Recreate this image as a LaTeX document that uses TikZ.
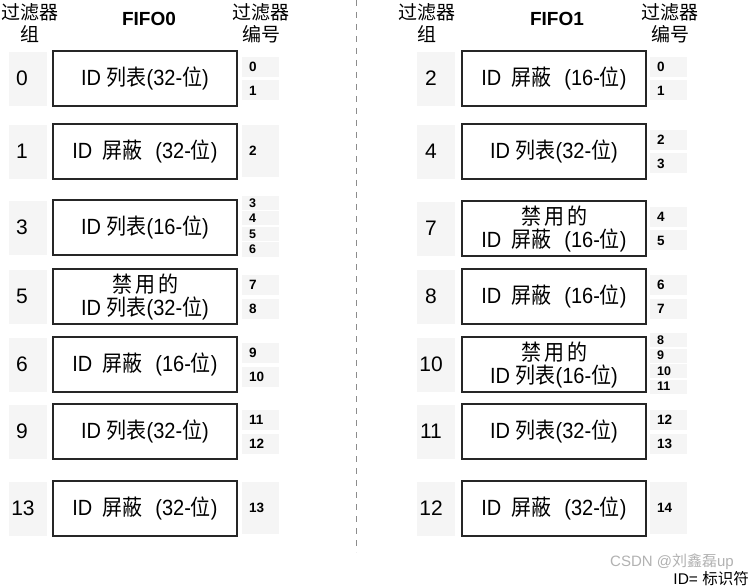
\documentclass[tikz,border=0pt]{standalone}
\usepackage{fontspec}
\usepackage{graphicx}
\setmainfont{Liberation Sans}
\newfontfamily\cjk{Noto Sans CJK SC}
\newcommand\zh[1]{{\cjk #1}}
\newcommand\myT[1]{\scalebox{1}[1.1]{#1}}
\newcommand\myLst[1]{\myT{ID \zh{列表}(#1-\zh{位})}}
\newcommand\myMsk[1]{\myT{ID\hspace{10pt}\zh{屏蔽}\hspace{13pt}(#1-\zh{位})}}
\newcommand\myDis{\myT{\zh{禁\hspace{3pt}用\hspace{3pt}的}}}
% filter-number cells: name, cell x centre, box top, numbers
\newcommand\oneF[4]{%
  \node[fcell, minimum height=52pt] (#1c) at (#2,#3+27) {};
  \node[fnum] (#1n) at (#2-11.5,#3+27) {#4};}
\newcommand\twoF[5]{%
  \node[fcell, minimum height=20pt] (#1ca) at (#2,#3+16) {};
  \node[fcell, minimum height=20pt] (#1cb) at (#2,#3+39.5) {};
  \node[fnum] (#1na) at (#2-11.5,#3+16) {#4};
  \node[fnum] (#1nb) at (#2-11.5,#3+39.5) {#5};}
\newcommand\fourF[7]{%
  \node[fcell, minimum height=14pt] (#1ca) at (#2,#3+3) {};
  \node[fcell, minimum height=14pt] (#1cb) at (#2,#3+18.5) {};
  \node[fcell, minimum height=14pt] (#1cc) at (#2,#3+34) {};
  \node[fcell, minimum height=14pt] (#1cd) at (#2,#3+49.5) {};
  \node[fnum4] (#1na) at (#2-11.5,#3+3) {#4};
  \node[fnum4] (#1nb) at (#2-11.5,#3+18.5) {#5};
  \node[fnum4] (#1nc) at (#2-11.5,#3+34) {#6};
  \node[fnum4] (#1nd) at (#2-11.5,#3+49.5) {#7};}
% group cell: name, cell x centre, label x, box top, number
\newcommand\grp[5]{%
  \node[gcell] (#1c) at (#2,#4+28) {};
  \node[gnum] (#1n) at (#3,#4+27) {#5};}
\begin{document}
\begin{tikzpicture}[x=1pt,y=-1pt,
  mainbox/.style={draw=black!85, line width=1.3pt, fill=white, minimum width=184pt,
    minimum height=55pt, inner sep=0pt, align=center, font=\fontsize{20}{23}\selectfont},
  fcell/.style={fill=black!4, inner sep=0pt, minimum width=37pt},
  gcell/.style={fill=black!4, inner sep=0pt, minimum width=38pt, minimum height=54pt},
  gnum/.style={inner sep=0pt, font=\fontsize{21}{24}\selectfont},
  fnum/.style={inner sep=0pt, anchor=west, font=\bfseries\fontsize{13.5}{15}\selectfont},
  fnum4/.style={inner sep=0pt, anchor=west, font=\bfseries\fontsize{12.5}{14}\selectfont},
  hdr/.style={inner sep=0pt, align=center, font=\cjk\fontsize{19}{22}\selectfont},
  fifo/.style={inner sep=0pt, font=\bfseries\fontsize{19}{22}\selectfont},
  divider/.style={draw=black!45, line width=1pt, dash pattern=on 6pt off 6pt}]
\useasboundingbox (0,0) rectangle (755,588);
\fill[white] (0,0) rectangle (755,588);

% divider
\coordinate (dtop) at (356,0);
\coordinate (dbot) at (356,552);
\draw[divider] (dtop) -- (dbot);

% headers
\node[hdr] (hL1) at (30,23) {过滤器\\组};
\node[fifo] (hL2) at (149,19) {FIFO0};
\node[hdr] (hL3) at (261,23) {过滤器\\编号};
\node[hdr] (hR1) at (427,23) {过滤器\\组};
\node[fifo] (hR2) at (557,19) {FIFO1};
\node[hdr] (hR3) at (670,23) {过滤器\\编号};

% ---------- FIFO0 ----------
\grp{gL0}{28}{22}{51}{0}
\node[mainbox] (bL0) at (145,78.5) {\myLst{32}};
\twoF{fL0}{260.5}{51}{0}{1}

\grp{gL1}{28}{22}{124}{1}
\node[mainbox] (bL1) at (145,151.5) {\myMsk{32}};
\oneF{fL1}{260.5}{124}{2}

\grp{gL3}{28}{22}{200}{3}
\node[mainbox] (bL3) at (145,227.5) {\myLst{16}};
\fourF{fL3}{260.5}{200}{3}{4}{5}{6}

\grp{gL5}{28}{22}{269}{5}
\node[mainbox] (bL5) at (145,296.5) {\myDis\\\myLst{32}};
\twoF{fL5}{260.5}{269}{7}{8}

\grp{gL6}{28}{22}{337}{6}
\node[mainbox] (bL6) at (145,364.5) {\myMsk{16}};
\twoF{fL6}{260.5}{337}{9}{10}

\grp{gL9}{28}{22}{404}{9}
\node[mainbox] (bL9) at (145,431.5) {\myLst{32}};
\twoF{fL9}{260.5}{404}{11}{12}

\grp{gL13}{28}{23}{481}{13}
\node[mainbox] (bL13) at (145,508.5) {\myMsk{32}};
\oneF{fL13}{260.5}{481}{13}

% ---------- FIFO1 ----------
\grp{gR2}{436}{431}{51}{2}
\node[mainbox] (bR2) at (554,78.5) {\myMsk{16}};
\twoF{fR2}{668.5}{51}{0}{1}

\grp{gR4}{436}{431}{124}{4}
\node[mainbox] (bR4) at (554,151.5) {\myLst{32}};
\twoF{fR4}{668.5}{124}{2}{3}

\grp{gR7}{436}{431}{201}{7}
\node[mainbox] (bR7) at (554,228.5) {\myDis\\\myMsk{16}};
\twoF{fR7}{668.5}{201}{4}{5}

\grp{gR8}{436}{431}{269}{8}
\node[mainbox] (bR8) at (554,296.5) {\myMsk{16}};
\twoF{fR8}{668.5}{269}{6}{7}

\grp{gR10}{436}{431}{337}{10}
\node[mainbox] (bR10) at (554,364.5) {\myDis\\\myLst{16}};
\fourF{fR10}{668.5}{337}{8}{9}{10}{11}

\grp{gR11}{436}{431}{404}{11}
\node[mainbox] (bR11) at (554,431.5) {\myLst{32}};
\twoF{fR11}{668.5}{404}{12}{13}

\grp{gR12}{436}{431}{481}{12}
\node[mainbox] (bR12) at (554,508.5) {\myMsk{32}};
\oneF{fR12}{668.5}{481}{14}

% footer
\node[inner sep=0pt, text=black!30, font=\fontsize{15}{17}\selectfont] (wm) at (672,562) {CSDN @\zh{刘鑫磊}up};
\node[inner sep=0pt, anchor=east, font=\fontsize{15.5}{17}\selectfont] (idnote) at (749,579) {ID= \zh{标识符}};
\end{tikzpicture}
\end{document}
